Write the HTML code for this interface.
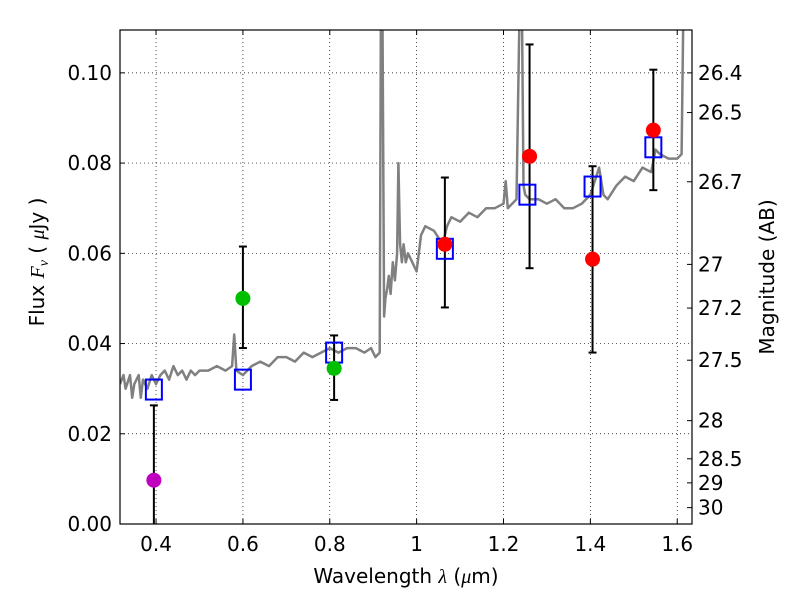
<!DOCTYPE html>
<html><head><meta charset="utf-8"><style>
body{margin:0;background:#fff;}
svg text{font-family:"DejaVu Sans","Liberation Sans",sans-serif;font-size:20px;fill:#000;}
</style></head><body>
<svg id="chart" width="800" height="600" xmlns="http://www.w3.org/2000/svg"></svg>
<script>
const specLam=[0.317,0.325,0.33,0.34,0.345,0.35,0.36,0.365,0.37,0.38,0.39,0.40,0.41,0.42,0.43,0.44,0.45,0.46,0.47,0.48,0.49,0.50,0.52,0.54,0.56,0.575,0.58,0.585,0.60,0.62,0.64,0.66,0.68,0.70,0.72,0.74,0.76,0.78,0.80,0.82,0.84,0.86,0.88,0.895,0.905,0.915,0.918,0.921,0.925,0.928,0.932,0.936,0.94,0.945,0.95,0.955,0.958,0.962,0.966,0.97,0.975,0.98,0.99,1.0,1.01,1.02,1.04,1.06,1.07,1.08,1.1,1.12,1.14,1.16,1.18,1.2,1.205,1.21,1.23,1.238,1.242,1.246,1.25,1.26,1.28,1.3,1.32,1.34,1.36,1.38,1.40,1.42,1.43,1.44,1.46,1.48,1.50,1.52,1.54,1.55,1.56,1.58,1.60,1.61,1.615,1.63];
const specFlux=[0.031,0.033,0.030,0.033,0.028,0.031,0.033,0.028,0.032,0.030,0.033,0.031,0.033,0.034,0.032,0.035,0.033,0.034,0.032,0.034,0.033,0.034,0.034,0.035,0.034,0.035,0.042,0.034,0.033,0.035,0.036,0.035,0.037,0.037,0.036,0.038,0.037,0.038,0.039,0.038,0.039,0.039,0.038,0.039,0.037,0.038,0.12,0.12,0.046,0.050,0.052,0.055,0.051,0.058,0.054,0.060,0.080,0.062,0.058,0.062,0.058,0.060,0.058,0.056,0.064,0.066,0.065,0.062,0.066,0.068,0.067,0.069,0.068,0.070,0.070,0.071,0.076,0.070,0.072,0.12,0.12,0.075,0.073,0.072,0.072,0.071,0.072,0.070,0.070,0.071,0.073,0.079,0.073,0.072,0.075,0.077,0.076,0.079,0.078,0.083,0.082,0.081,0.081,0.082,0.12,0.12];
const modelLam=[0.395,0.60,0.81,1.065,1.255,1.405,1.545];
const modelFlux=[0.0298,0.032,0.038,0.061,0.073,0.0748,0.0835];
const obsLam=[0.395,0.60,0.81,1.065,1.26,1.405,1.545];
const obsFlux=[0.0097,0.050,0.0345,0.062,0.0815,0.0587,0.0873];
const obsLo=[-0.01,0.039,0.0275,0.048,0.0567,0.038,0.074];
const obsHi=[0.0263,0.0615,0.0418,0.0768,0.1063,0.0793,0.1007];
const obsColor=['#bf00bf','#00bf00','#00bf00','#ff0000','#ff0000','#ff0000','#ff0000'];
const xTicks=[0.4,0.6,0.8,1.0,1.2,1.4,1.6];
const xTickLabels=['0.4','0.6','0.8','1','1.2','1.4','1.6'];
const yTicks=[0,0.02,0.04,0.06,0.08,0.10];
const yTickLabels=['0.00','0.02','0.04','0.06','0.08','0.10'];
const magTicks=[26.4,26.5,26.7,27,27.2,27.5,28,28.5,29,30];

const L=120,R=692,T=30,B=524,xmin=0.317,xmax=1.634,ymin=0,ymax=0.1095;
const X=v=>L+(v-xmin)/(xmax-xmin)*(R-L);
const Y=v=>B-(v-ymin)/(ymax-ymin)*(B-T);
const NS='http://www.w3.org/2000/svg';
const svg=document.getElementById('chart');
function mk(tag,attrs,parent){const e=document.createElementNS(NS,tag);for(const k in attrs)e.setAttribute(k,attrs[k]);(parent||svg).appendChild(e);return e;}
const defs=mk('defs',{});const cp=mk('clipPath',{id:'clip'},defs);mk('rect',{x:L,y:T,width:R-L,height:B-T},cp);

const grid=mk('g',{});


xTicks.forEach((t,i)=>{
  const x=X(t);
  mk('line',{x1:x,x2:x,y1:T,y2:B,stroke:'#000','stroke-width':0.7,'stroke-dasharray':'1,3'},grid);
  mk('line',{x1:x,x2:x,y1:B,y2:B-5,stroke:'#000'},grid);mk('line',{x1:x,x2:x,y1:T,y2:T+5,stroke:'#000'},grid);
  const tx=mk('text',{x:x,y:B+27,'text-anchor':'middle'});tx.textContent=xTickLabels[i];
  
  
});
yTicks.forEach((t,i)=>{
  const y=Y(t);
  if(t>0)mk('line',{x1:L,x2:R,y1:y,y2:y,stroke:'#000','stroke-width':0.7,'stroke-dasharray':'1,3'},grid);
  mk('line',{x1:L,x2:L+5,y1:y,y2:y,stroke:'#000'},grid);
  const tx=mk('text',{x:L-8,y:y+7,'text-anchor':'end'});tx.textContent=yTickLabels[i];
  
  
});
magTicks.forEach(m=>{
  const f=Math.pow(10,-(m-23.9)/2.5);const y=Y(f);
  mk('line',{x1:R-5,x2:R,y1:y,y2:y,stroke:'#000'});
  const tx=mk('text',{x:R+6,y:y+7});tx.textContent=String(m);
  
  
});

const g=mk('g',{'clip-path':'url(#clip)'});
const pts=specLam.map((l,i)=>X(l).toFixed(1)+','+Y(specFlux[i]).toFixed(1)).join(' ');
const sp=mk('polyline',{points:pts,fill:'none',stroke:'#808080','stroke-width':2.5,'stroke-linejoin':'round'},g);



obsLam.forEach((l,i)=>{
  const x=X(l);
  const eb=mk('g',{},g);
  
  
  mk('line',{x1:x,x2:x,y1:Y(obsLo[i]),y2:Y(obsHi[i]),stroke:'#000','stroke-width':2},eb);
  mk('line',{x1:x-4,x2:x+4,y1:Y(obsLo[i]),y2:Y(obsLo[i]),stroke:'#000','stroke-width':2},eb);
  mk('line',{x1:x-4,x2:x+4,y1:Y(obsHi[i]),y2:Y(obsHi[i]),stroke:'#000','stroke-width':2},eb);
});
modelLam.forEach((l,i)=>{
  const r=mk('rect',{x:X(l)-8,y:Y(modelFlux[i])-10,width:16,height:20,fill:'none',stroke:'#0000ff','stroke-width':2},g);
  
  
});
obsLam.forEach((l,i)=>{
  const c=mk('circle',{cx:X(l),cy:Y(obsFlux[i]),r:7.5,fill:obsColor[i]},g);
  
  
});

const fr=mk('rect',{x:L,y:T,width:R-L,height:B-T,fill:'none',stroke:'#000','stroke-width':1.2});



const xl=mk('text',{x:406,y:583,'text-anchor':'middle'});
xl.innerHTML='Wavelength  <tspan font-style="italic" font-family="Liberation Serif,serif">λ</tspan> (<tspan font-style="italic" font-family="Liberation Serif,serif">μ</tspan>m)';


const yl=mk('text',{x:0,y:0,'text-anchor':'middle',transform:'translate(44,262) rotate(-90)'});
yl.innerHTML='Flux  <tspan font-style="italic" font-family="Liberation Serif,serif">F</tspan><tspan font-style="italic" font-family="Liberation Serif,serif" font-size="14" dy="4">ν</tspan><tspan dy="-4">  ( </tspan><tspan font-style="italic" font-family="Liberation Serif,serif">μ</tspan>Jy )';


const rl=mk('text',{x:0,y:0,'text-anchor':'middle',transform:'translate(774,277) rotate(-90)'});
rl.textContent='Magnitude (AB)';


</script>
</body></html>
